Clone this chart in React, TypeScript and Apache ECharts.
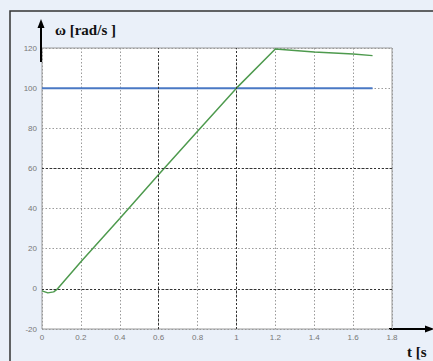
import React, { useEffect, useRef } from "react";
import * as echarts from "echarts";

const timeSeconds = [0, 0.03, 0.06, 0.08, 0.2, 0.4, 0.6, 0.8, 1.0, 1.2, 1.4, 1.6, 1.7];
const omegaMeasured = [-1, -2, -1.5, 0, 13.5, 35, 57, 78.5, 100, 119.5, 118, 117, 116.2];
const referenceTime = [0, 1.7];
const referenceOmega = [100, 100];
const darkGridX = [0.6, 1.0];
const darkGridY = [0, 60];

export default function App() {
  const ref = useRef<HTMLDivElement>(null);
  useEffect(() => {
    if (!ref.current) return;
    const chart = echarts.init(ref.current, null, { renderer: "svg" });
    const green = timeSeconds.map((t, i) => [t, omegaMeasured[i]]);
    const blue = referenceTime.map((t, i) => [t, referenceOmega[i]]);
    chart.setOption({
      animation: false,
      backgroundColor: "#eaf0f9",
      grid: {
        left: 42,
        right: 41,
        top: 48,
        bottom: 32,
        show: true,
        backgroundColor: "#ffffff",
        borderColor: "#9a9a9a",
        borderWidth: 1,
      },
      xAxis: {
        type: "value",
        min: 0,
        max: 1.8,
        interval: 0.2,
        axisLine: { show: false },
        axisTick: { show: false },
        axisLabel: { color: "#777", fontSize: 8, margin: 4, fontFamily: "Liberation Sans, Arial" },
        splitLine: { show: true, lineStyle: { color: "#9a9a9a", type: [1.5, 2], width: 1 } },
      },
      yAxis: {
        type: "value",
        min: -20,
        max: 120,
        interval: 20,
        axisLine: { show: false },
        axisTick: { show: false },
        axisLabel: { color: "#777", fontSize: 8, margin: 5, fontFamily: "Liberation Sans, Arial" },
        splitLine: { show: true, lineStyle: { color: "#9a9a9a", type: [1.5, 2], width: 1 } },
      },
      series: [
        {
          type: "line",
          data: [],
          silent: true,
          markLine: {
            silent: true,
            symbol: "none",
            label: { show: false },
            lineStyle: { color: "#333", type: [2, 2], width: 1 },
            data: [
              ...darkGridX.map((x) => ({ xAxis: x })),
              ...darkGridY.map((y) => ({ yAxis: y })),
            ],
          },
        },
        {
          type: "line",
          data: blue,
          symbol: "none",
          lineStyle: { color: "#4a78c4", width: 2 },
        },
        {
          type: "line",
          data: green,
          symbol: "none",
          lineStyle: { color: "#4e9a4e", width: 1.5 },
        },
      ],
      graphic: [
        {
          type: "rect",
          shape: { x: 10, y: 11, width: 440, height: 360 },
          style: { fill: "none", stroke: "#333", lineWidth: 1.5 },
          z: -1,
        },
        {
          type: "line",
          shape: { x1: 41, y1: 62, x2: 41, y2: 26 },
          style: { stroke: "#000", lineWidth: 2 },
        },
        {
          type: "polygon",
          shape: { points: [[41, 19], [37.5, 28], [44.5, 28]] },
          style: { fill: "#000" },
        },
        {
          type: "line",
          shape: { x1: 389, y1: 329, x2: 426, y2: 329 },
          style: { stroke: "#000", lineWidth: 2 },
        },
        {
          type: "polygon",
          shape: { points: [[434, 329], [425, 325.5], [425, 332.5]] },
          style: { fill: "#000" },
        },
        {
          type: "text",
          x: 55,
          y: 30,
          style: {
            text: "ω [rad/s ]",
            font: "bold 15px 'Liberation Serif', 'Times New Roman', serif",
            fill: "#111",
            verticalAlign: "middle",
          },
        },
        {
          type: "text",
          x: 407,
          y: 352,
          style: {
            text: "t [s",
            font: "bold 15px 'Liberation Serif', 'Times New Roman', serif",
            fill: "#111",
            verticalAlign: "middle",
          },
        },
      ],
    });
    return () => chart.dispose();
  }, []);
  return (
    <div
      ref={ref}
      style={{ position: "absolute", left: 0, top: 0, width: 433, height: 361 }}
    />
  );
}
